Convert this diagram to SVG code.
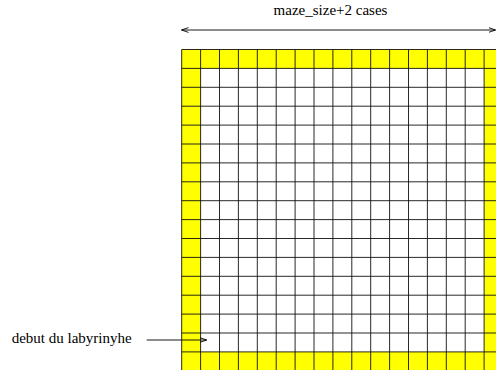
<svg xmlns="http://www.w3.org/2000/svg" width="496" height="370" viewBox="0 0 496 370">
<style>
.lbl{font-family:"Liberation Serif","Times New Roman",serif;font-size:15px;fill:#000}
.border{fill:#ffff00;stroke:none}
.grid{fill:none;stroke:#111;stroke-width:0.9}
.conn{fill:none;stroke:#000;stroke-width:0.9}
</style>
<defs>
<marker id="ah" markerWidth="8" markerHeight="6" refX="7" refY="3" orient="auto-start-reverse" markerUnits="userSpaceOnUse">
<path d="M0,0.6 L7,3 L0,5.4" fill="none" stroke="#000" stroke-width="0.9"/>
</marker>
</defs>
<rect width="496" height="370" fill="#fff"/>
<g id="maze">
<rect class="border" x="181.7" y="49.5" width="315" height="18.9"/>
<rect class="border" x="181.7" y="351.9" width="315" height="19"/>
<rect class="border" x="181.7" y="49.5" width="18.9" height="321"/>
<rect class="border" x="484.1" y="49.5" width="12" height="321"/>
<path class="grid" d="M181.7,49.5V370 M200.6,49.5V370 M219.5,49.5V370 M238.4,49.5V370 M257.3,49.5V370 M276.2,49.5V370 M295.1,49.5V370 M314,49.5V370 M332.9,49.5V370 M351.8,49.5V370 M370.7,49.5V370 M389.6,49.5V370 M408.5,49.5V370 M427.4,49.5V370 M446.3,49.5V370 M465.2,49.5V370 M484.1,49.5V370
M181.7,49.5H496 M181.7,68.4H496 M181.7,87.3H496 M181.7,106.2H496 M181.7,125.1H496 M181.7,144H496 M181.7,162.9H496 M181.7,181.8H496 M181.7,200.7H496 M181.7,219.6H496 M181.7,238.5H496 M181.7,257.4H496 M181.7,276.3H496 M181.7,295.2H496 M181.7,314.1H496 M181.7,333H496 M181.7,351.9H496"/>
</g>
<g id="connectors">
<line class="conn" x1="181.5" y1="30" x2="495.5" y2="30" marker-start="url(#ah)" marker-end="url(#ah)"/>
<line class="conn" x1="146.7" y1="340" x2="206.7" y2="340" marker-end="url(#ah)"/>
</g>
<g id="labels">
<text class="lbl" x="330.5" y="15" text-anchor="middle">maze_size+2 cases</text>
<text class="lbl" x="11.7" y="343">debut du labyrinyhe</text>
</g>
</svg>
